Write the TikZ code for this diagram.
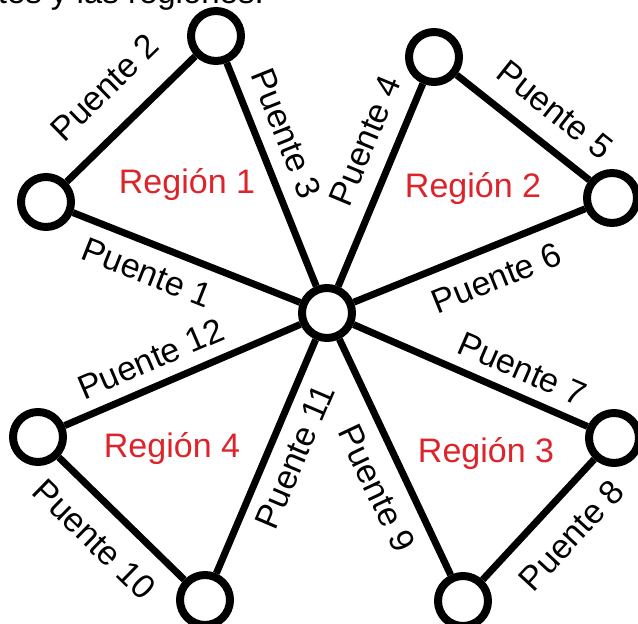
\documentclass[tikz,border=0pt]{standalone}
\usepackage{fontspec}
\setmainfont{Liberation Sans}
\definecolor{regred}{RGB}{220,36,42}
\begin{document}
\begin{tikzpicture}[x=1pt,y=1pt,
  vert/.style={circle,draw=black,line width=8pt,minimum size=50pt,inner sep=0pt,fill=white},
  bridge/.style={line width=7pt,draw=black},
  lbl/.style={font=\fontsize{34}{40}\selectfont,inner sep=0pt,sloped},
  region/.style={font=\fontsize{34}{40}\selectfont,text=regred,inner sep=0pt,anchor=base}]
\useasboundingbox (0,0) rectangle (638,624);
\clip (0,0) rectangle (638,624);
\fill[white] (0,0) rectangle (638,624);

\node[anchor=base east,font=\fontsize{33}{38}\selectfont,inner sep=0pt] (cap) at (264,620) {ntes y las regiones.};

\node[vert] (c)  at (327,311) {};
\node[vert] (a1) at (216,588) {};
\node[vert] (b1) at (46,422) {};
\node[vert] (a2) at (434,567) {};
\node[vert] (b2) at (612,426) {};
\node[vert] (a3) at (614,186) {};
\node[vert] (b3) at (463,23) {};
\node[vert] (a4) at (38,187) {};
\node[vert] (b4) at (205,24) {};

\draw[bridge] (b1) -- node[lbl,pos=0.3725,below=13.3pt] (p1) {Puente 1} (c);
\draw[bridge] (b1) -- node[lbl,pos=0.517,above=25.3pt] (p2) {Puente 2} (a1);
\draw[bridge] (a1) -- node[lbl,pos=0.365,above=13.3pt] (p3) {Puente 3} (c);
\draw[bridge] (c) -- node[lbl,pos=0.659,above=15.8pt] (p4) {Puente 4} (a2);
\draw[bridge] (a2) -- node[lbl,pos=0.582,above=18.3pt] (p5) {Puente 5} (b2);
\draw[bridge] (c) -- node[lbl,pos=0.566,below=15.3pt] (p6) {Puente 6} (b2);
\draw[bridge] (c) -- node[lbl,pos=0.676,above=11.3pt] (p7) {Puente 7} (a3);
\draw[bridge] (b3) -- node[lbl,pos=0.566,below=19.3pt] (p8) {Puente 8} (a3);
\draw[bridge] (c) -- node[lbl,pos=0.579,below=14.3pt] (p9) {Puente 9} (b3);
\draw[bridge] (a4) -- node[lbl,pos=0.473,below=18.3pt] (p10) {Puente 10} (b4);
\draw[bridge] (b4) -- node[lbl,pos=0.545,below=11.3pt] (p11) {Puente 11} (c);
\draw[bridge] (a4) -- node[lbl,pos=0.411,above=11.8pt] (p12) {Puente 12} (c);

\node[region] (r1) at (187,430) {Región 1};
\node[region] (r2) at (473,426) {Región 2};
\node[region] (r3) at (486,161) {Región 3};
\node[region] (r4) at (172,166) {Región 4};
\end{tikzpicture}
\end{document}
